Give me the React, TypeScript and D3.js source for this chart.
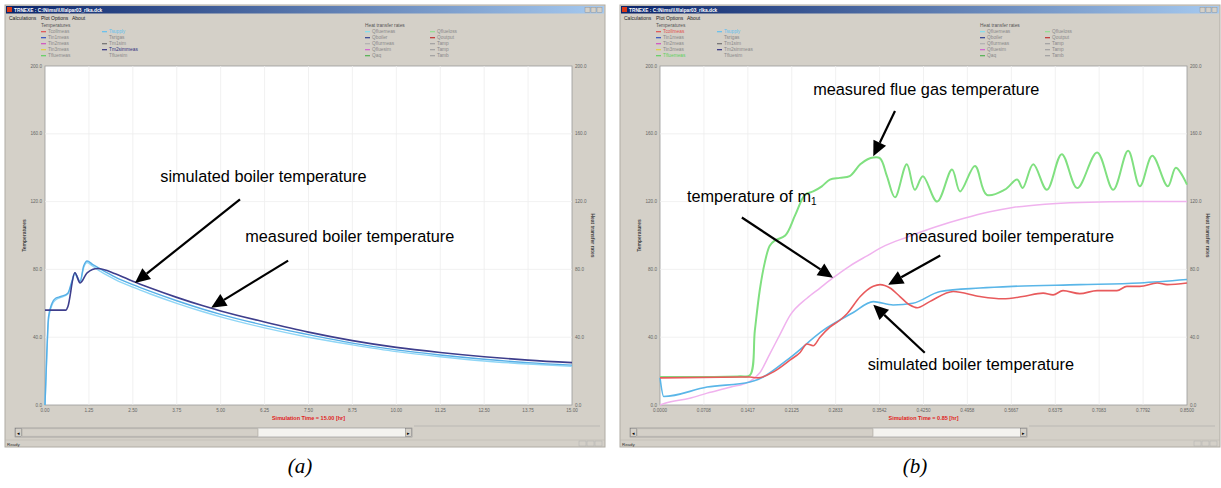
import React from "react";
import * as d3 from "d3";

// ---------------- data ----------------
const Y_TICKS = [0, 40, 80, 120, 160, 200];
const A_X_TICKS = [0, 1.25, 2.5, 3.75, 5, 6.25, 7.5, 8.75, 10, 11.25, 12.5, 13.75, 15];
const B_X_TICKS = [0, 0.0708, 0.1417, 0.2125, 0.2833, 0.3542, 0.425, 0.4958, 0.5667, 0.6375, 0.7083, 0.7792, 0.85];

// panel (a): simulated boiler temperature
const A_SIM_T = [0, 0.6, 0.65, 0.85, 1.0, 1.2, 1.5, 2.0, 2.5, 3.0, 3.75, 4.5, 5.0, 6.25, 7.5, 8.75, 10, 11.25, 12.5, 13.75, 15];
const A_SIM_V = [56, 56, 58, 78, 72, 78, 80.5, 77.5, 73, 69, 63.5, 58.5, 55.5, 49, 43, 38, 34, 31, 28.5, 26.5, 25];
// panel (a): measured boiler temperatures (two close traces)
const A_MEAS_T = [0, 0.05, 0.1, 0.2, 0.3, 0.45, 0.65, 0.75, 0.85, 1.0, 1.1, 1.2, 1.35, 1.6, 2.0, 2.5, 3.0, 3.75, 4.5, 5.0, 6.25, 7.5, 8.75, 10, 11.25, 12.5, 13.75, 15];
const A_MEAS_V = [0, 30, 52, 60, 63, 64, 66, 72, 78, 73, 82, 85, 83, 80, 75.5, 71, 67, 61.5, 56.5, 53.5, 47, 41.5, 36.5, 32.5, 29.5, 27, 25, 23.5];
const A_MEAS2_V = [0, 28, 50, 59, 62, 63.5, 65.5, 71, 77, 72.5, 81, 84, 82, 78.5, 74, 69.5, 65.5, 60, 55, 52, 45.5, 40, 35.5, 31.5, 28.5, 26, 24.2, 22.8];

// panel (b): measured flue gas temperature
const B_FLUE_T = [0, 0.065, 0.129, 0.145, 0.153, 0.161, 0.169, 0.177, 0.185, 0.202, 0.218, 0.234, 0.247, 0.261, 0.274, 0.29, 0.306, 0.323, 0.335, 0.344, 0.355, 0.366, 0.379, 0.398, 0.411, 0.424, 0.447, 0.471, 0.484, 0.508, 0.527, 0.556, 0.576, 0.585, 0.602, 0.624, 0.648, 0.673, 0.705, 0.731, 0.755, 0.774, 0.794, 0.819, 0.832, 0.85];
const B_FLUE_V = [16.5, 16.5, 17, 17.5, 44, 68, 84, 94, 97, 100, 112, 124, 126, 129, 133, 134, 135, 142, 145, 146, 145.5, 135, 122.5, 142, 127, 135, 120, 139, 126, 141, 124, 127, 133, 128, 142, 127, 148, 128, 149, 127, 150, 129, 147, 129, 140, 130];
// panel (b): temperature of m1
const B_M1_T = [0, 0.008, 0.048, 0.076, 0.113, 0.145, 0.161, 0.177, 0.194, 0.21, 0.237, 0.258, 0.279, 0.306, 0.334, 0.363, 0.398, 0.444, 0.489, 0.532, 0.569, 0.621, 0.677, 0.774, 0.85];
const B_M1_V = [0, 1, 4, 7, 10.5, 14, 19, 30, 42, 53, 63, 69, 75, 82, 88, 94, 99, 105, 110, 114, 116.5, 118.5, 119.5, 120, 120];
// panel (b): simulated boiler temperature
const B_SIM_T = [0, 0.006, 0.076, 0.145, 0.158, 0.21, 0.263, 0.311, 0.344, 0.376, 0.408, 0.452, 0.516, 0.569, 0.677, 0.774, 0.85];
const B_SIM_V = [16, 5, 10.6, 13.6, 15, 28, 44, 54.4, 61, 59, 60, 67, 69, 70, 71, 72, 74];
// panel (b): measured boiler temperature
const B_MEAS_T = [0, 0.145, 0.158, 0.185, 0.21, 0.226, 0.237, 0.247, 0.258, 0.274, 0.29, 0.302, 0.323, 0.344, 0.355, 0.371, 0.387, 0.403, 0.415, 0.435, 0.473, 0.516, 0.553, 0.585, 0.618, 0.634, 0.65, 0.677, 0.705, 0.737, 0.753, 0.774, 0.802, 0.818, 0.85];
const B_MEAS_V = [16, 16.5, 16, 20, 26.6, 31, 36, 35, 40, 46, 50, 54, 64, 70, 71, 69, 64, 59, 57.4, 61, 67, 64, 62.7, 64, 66, 65, 67.5, 65.7, 67.5, 67.5, 70, 70, 72, 71, 72];

// legend labels
const TEMP_COL1 = ["Tcollmeas", "Tin1meas", "Tin2meas", "Tin3meas", "Tfluemeas"];
const TEMP_COL2 = ["Tsupply", "Tsrtgas", "Tm1sim", "Tm2simmeas", "Tfluesim"];
const HEAT_COL1 = ["Qfluemeas", "Qboiler", "Qflurmeas", "Qfluesim", "Qaq"];
const HEAT_COL2 = ["Qflueloss", "Qoutput", "Tamp", "Tamp", "Tamb"];

// ---------------- styles ----------------
const TEMP_COL1_C = ["#e05050", "#3050c0", "#d050c0", "#e0d040", "#60d060"];
const TEMP_COL2_C = ["#60c0f0", "none", "#707070", "#303080", "none"];
const HEAT_COL1_C = ["#80e0f0", "#304090", "#b0b0b0", "#d060d0", "#50b050"];
const HEAT_COL2_C = ["#90e090", "#c03030", "#a0a0a0", "#a0a0a0", "#a0a0a0"];

const UI = "Liberation Sans, Arial, sans-serif";

type Series = { t: number[]; v: number[]; color: string; w: number; curve?: any };
type Note = { text: string; sub?: string; at: [number, number]; from: [number, number]; to: [number, number] };

function Arrow({ x1, y1, x2, y2 }: { x1: number; y1: number; x2: number; y2: number }) {
  const dx = x2 - x1, dy = y2 - y1;
  const len = Math.hypot(dx, dy);
  const ux = dx / len, uy = dy / len;
  const hl = 15, hw = 7;
  const bx = x2 - ux * hl, by = y2 - uy * hl;
  const px = -uy, py = ux;
  return (
    <g>
      <line x1={x1} y1={y1} x2={bx} y2={by} stroke="#000" strokeWidth={2.2} />
      <polygon points={`${x2},${y2} ${bx + px * hw},${by + py * hw} ${bx - px * hw},${by - py * hw}`} fill="#000" />
    </g>
  );
}

function Panel(props: {
  ox: number; xDomain: [number, number]; xTicks: number[]; xFmt: (v: number) => string;
  series: Series[]; notes: Note[]; simTime: string; caption: string; hl: string[];
}) {
  const { ox, xDomain, xTicks, xFmt, series, notes, simTime, caption, hl } = props;
  const L = ox + 45, R = ox + 572, T = 66, B = 405;
  const x = d3.scaleLinear().domain(xDomain).range([L, R]);
  const y = d3.scaleLinear().domain([0, 200]).range([B, T]);
  const W0 = ox + 5, WW = 600;
  const gid = `tb${ox}`;
  const legendCol = (names: string[], colors: string[], lx: number) =>
    names.map((n, i) => {
      const yy = 33 + i * 6;
      const c = colors[i];
      const isHl = hl.includes(n);
      return (
        <g key={n + i}>
          {c !== "none" && <line x1={lx} x2={lx + 5} y1={yy - 1.3} y2={yy - 1.3} stroke={c} strokeWidth={1.2} />}
          <text x={lx + 7} y={yy} fontSize={4.8} fill={isHl ? (c === "none" ? "#777" : c) : "#8a8a8a"} fontFamily={UI}>{n}</text>
        </g>
      );
    });
  return (
    <g>
      <defs>
        <linearGradient id={gid} x1="0" x2="1" y1="0" y2="0">
          <stop offset="0" stopColor="#0a246a" />
          <stop offset="1" stopColor="#a6caf0" />
        </linearGradient>
      </defs>
      {/* window */}
      <rect x={W0} y={5} width={WW} height={442} fill="#d4d0c8" stroke="#b0aca4" />
      <rect x={W0 + 1} y={6} width={WW - 2} height={7.5} fill={`url(#${gid})`} />
      <rect x={W0 + 2} y={7} width={5} height={5} fill="#d83818" />
      <text x={W0 + 9} y={11.8} fontSize={4.8} fill="#fff" fontWeight="bold" fontFamily={UI}>TRNEXE : C:\Nimsi\Ulla\par03_rlka.dck</text>
      {[0, 1, 2].map((i) => (
        <rect key={i} x={W0 + WW - 20 + i * 6} y={7.2} width={5} height={5} fill="#d4d0c8" stroke="#888" strokeWidth={0.4} />
      ))}
      <text y={19.5} fontSize={5} fill="#222" fontFamily={UI}>
        <tspan x={W0 + 4}>Calculations</tspan>
        <tspan x={W0 + 36}>Plot Options</tspan>
        <tspan x={W0 + 67}>About</tspan>
      </text>
      {/* legends */}
      <text x={ox + 41} y={27} fontSize={4.8} fill="#555" fontFamily={UI}>Temperatures</text>
      {legendCol(TEMP_COL1, TEMP_COL1_C, ox + 41)}
      {legendCol(TEMP_COL2, TEMP_COL2_C, ox + 102)}
      <text x={ox + 365} y={27} fontSize={4.8} fill="#555" fontFamily={UI}>Heat transfer rates</text>
      {legendCol(HEAT_COL1, HEAT_COL1_C, ox + 365)}
      {legendCol(HEAT_COL2, HEAT_COL2_C, ox + 430)}
      {/* plot area */}
      <rect x={L} y={T} width={R - L} height={B - T} fill="#fff" stroke="#9a9a9a" strokeWidth={0.8} />
      {xTicks.slice(1, -1).map((t) => (
        <line key={"gx" + t} x1={x(t)} x2={x(t)} y1={T} y2={B} stroke="#ededed" strokeWidth={0.8} />
      ))}
      {Y_TICKS.slice(1, -1).map((v) => (
        <line key={"gy" + v} x1={L} x2={R} y1={y(v)} y2={y(v)} stroke="#ededed" strokeWidth={0.8} />
      ))}
      {Y_TICKS.map((v) => (
        <g key={"yl" + v} fontSize={4.6} fill="#666" fontFamily={UI}>
          <text x={L - 3} y={y(v) + 1.5} textAnchor="end">{v.toFixed(1)}</text>
          <text x={R + 3} y={y(v) + 1.5}>{v.toFixed(1)}</text>
        </g>
      ))}
      {xTicks.map((t) => (
        <text key={"xl" + t} x={x(t)} y={B + 7} fontSize={4.6} fill="#666" textAnchor="middle" fontFamily={UI}>{xFmt(t)}</text>
      ))}
      <text transform={`translate(${ox + 26},${(T + B) / 2}) rotate(-90)`} fontSize={5} fontWeight="bold" fill="#444" textAnchor="middle" fontFamily={UI}>Temperatures</text>
      <text transform={`translate(${ox + 591},${(T + B) / 2}) rotate(90)`} fontSize={5} fontWeight="bold" fill="#444" textAnchor="middle" fontFamily={UI}>Heat transfer rates</text>
      <text x={(L + R) / 2} y={B + 15} fontSize={5.5} fontWeight="bold" fill="#e02020" textAnchor="middle" fontFamily={UI}>{simTime}</text>
      {/* series */}
      <g>
        {series.map((s, i) => {
          const pts = s.t.map((t, k) => [t, s.v[k]] as [number, number]);
          const line = d3.line<[number, number]>().x((d) => x(d[0])).y((d) => y(d[1])).curve(s.curve || d3.curveMonotoneX);
          return <path key={i} d={line(pts) || ""} fill="none" stroke={s.color} strokeWidth={s.w} strokeLinejoin="round" />;
        })}
      </g>
      {/* annotations */}
      {notes.map((n, i) => (
        <g key={"n" + i}>
          <text x={x(n.at[0])} y={y(n.at[1])} fontSize={16.3} fill="#000" fontFamily={UI}>
            {n.text}
            {n.sub && <tspan fontSize={10} dy={3}>{n.sub}</tspan>}
          </text>
          <Arrow x1={x(n.from[0])} y1={y(n.from[1])} x2={x(n.to[0])} y2={y(n.to[1])} />
        </g>
      ))}
      {/* scrollbar */}
      <rect x={ox + 15} y={428} width={397} height={9} fill="#f4f3ef" stroke="#8a8a8a" strokeWidth={0.6} />
      <rect x={ox + 22} y={428.8} width={236} height={7.4} fill="#d4d0c8" stroke="#9a968e" strokeWidth={0.5} />
      <rect x={ox + 15.5} y={428.5} width={6} height={8} fill="#d4d0c8" stroke="#777" strokeWidth={0.5} />
      <rect x={ox + 405.5} y={428.5} width={6} height={8} fill="#d4d0c8" stroke="#777" strokeWidth={0.5} />
      <text x={ox + 17.3} y={434.5} fontSize={5} fill="#000" fontFamily={UI}>◂</text>
      <text x={ox + 407.3} y={434.5} fontSize={5} fill="#000" fontFamily={UI}>▸</text>
      <line x1={ox + 414} x2={ox + 600} y1={426} y2={426} stroke="#aaa" strokeWidth={0.6} />
      <line x1={ox + 5} x2={ox + 605} y1={440} y2={440} stroke="#b8b4ac" strokeWidth={0.5} />
      <text x={W0 + 2} y={445.5} fontSize={4.4} fill="#333" fontFamily={UI}>Ready</text>
      {[0, 1, 2].map((i) => (
        <rect key={"sb" + i} x={W0 + WW - 26 + i * 8} y={441} width={7} height={5} fill="none" stroke="#aaa" strokeWidth={0.4} />
      ))}
      {/* caption */}
      <text x={ox + 300} y={473} fontSize={21} fontStyle="italic" fill="#000" textAnchor="middle" fontFamily="Liberation Serif, Times New Roman, serif">{caption}</text>
    </g>
  );
}

export default function App() {
  const seriesA: Series[] = [
    { t: A_MEAS_T, v: A_MEAS2_V, color: "#8fd6f6", w: 1.4 },
    { t: A_MEAS_T, v: A_MEAS_V, color: "#56aee6", w: 1.4 },
    { t: A_SIM_T, v: A_SIM_V, color: "#3e3e8c", w: 1.6 },
  ];
  const seriesB: Series[] = [
    { t: B_M1_T, v: B_M1_V, color: "#f0b2ee", w: 1.5 },
    { t: B_FLUE_T, v: B_FLUE_V, color: "#80e080", w: 2, curve: d3.curveCatmullRom },
    { t: B_SIM_T, v: B_SIM_V, color: "#5ab6e8", w: 1.6 },
    { t: B_MEAS_T, v: B_MEAS_V, color: "#e85a5c", w: 1.6 },
  ];
  const notesA: Note[] = [
    { text: "simulated boiler temperature", at: [3.28, 131.4], from: [5.55, 121.3], to: [2.56, 72] },
    { text: "measured boiler temperature", at: [5.7, 95.9], from: [6.92, 85.2], to: [4.73, 57.4] },
  ];
  const notesB: Note[] = [
    { text: "measured flue gas temperature", at: [0.247, 182.8], from: [0.379, 173.4], to: [0.344, 146.7] },
    { text: "temperature of m", sub: "1", at: [0.0435, 119.5], from: [0.132, 110.6], to: [0.279, 75.1] },
    { text: "measured boiler temperature", at: [0.395, 95.9], from: [0.452, 88.2], to: [0.368, 71] },
    { text: "simulated boiler temperature", at: [0.335, 20.7], from: [0.427, 30.8], to: [0.344, 59.2] },
  ];
  return (
    <svg width={1221} height={488} style={{ position: "absolute", left: 0, top: 0, background: "#fff" }}>
      <rect x={0} y={0} width={1221} height={488} fill="#fff" />
      <Panel ox={0} xDomain={[0, 15]} xTicks={A_X_TICKS} xFmt={(v) => v.toFixed(2)} series={seriesA} notes={notesA}
        simTime="Simulation Time =  15.00 [hr]" caption="(a)" hl={["Tsupply", "Tm2simmeas"]} />
      <Panel ox={615} xDomain={[0, 0.85]} xTicks={B_X_TICKS} xFmt={(v) => v.toFixed(4)} series={seriesB} notes={notesB}
        simTime="Simulation Time =   0.85 [hr]" caption="(b)" hl={["Tcollmeas", "Tfluemeas", "Tsupply"]} />
    </svg>
  );
}
